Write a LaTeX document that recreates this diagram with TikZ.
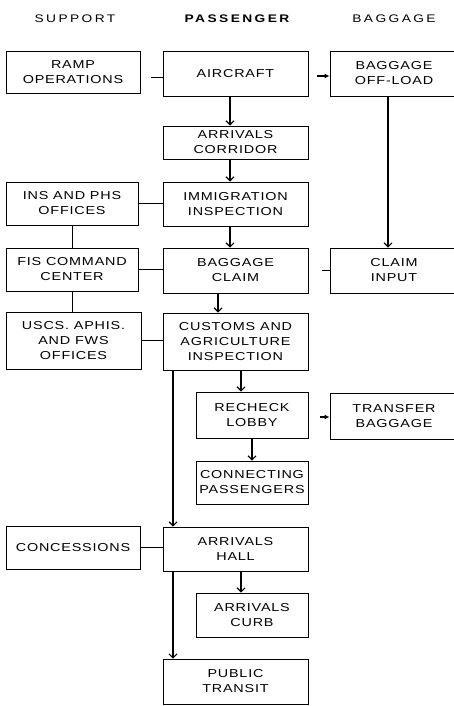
\documentclass[tikz,border=0pt]{standalone}
\usepackage{fontspec}
\setmainfont{Liberation Sans}
\newfontfamily\spacedfont[LetterSpace=7,FakeStretch=1.25]{Liberation Sans}
\newfontfamily\headfont[LetterSpace=22,FakeStretch=1.25]{Liberation Sans}
\usetikzlibrary{arrows.meta}
\tikzset{
  box/.style={draw, line width=0.9pt, inner sep=0pt, align=center,
    font=\spacedfont\fontsize{11.5}{15}\selectfont},
  head/.style={inner sep=0pt, font=\headfont\fontsize{11}{12}\selectfont},
  link/.style={line width=1pt},
  arr/.style={line width=1.3pt, -{Straight Barb[length=4pt,width=8pt,line width=1.1pt]}},
  stub/.style={line width=1.2pt, -{Latex[length=5pt,width=5pt]}}
}
\begin{document}
\begin{tikzpicture}[x=1pt,y=-1pt]
\useasboundingbox (0,0) rectangle (453,706);
% headers
\node[head] (hs) at (75,18.5) {SUPPORT};
\node[head] (hp) at (237,18.5) {\bfseries PASSENGER};
\node[head] (hb) at (394,18.5) {BAGGAGE};
% boxes
\node[box, minimum width=134pt, minimum height=42pt] (ramp) at (73,72) {RAMP\\OPERATIONS};
\node[box, minimum width=145pt, minimum height=45pt] (aircraft) at (235.5,73.5) {AIRCRAFT};
\node[box, minimum width=128pt, minimum height=45pt] (offload) at (394,73.5) {BAGGAGE\\OFF-LOAD};
\node[box, minimum width=145pt, minimum height=33pt] (corridor) at (235.5,142.5) {ARRIVALS\\CORRIDOR};
\node[box, minimum width=145pt, minimum height=44pt] (immig) at (235.5,204) {IMMIGRATION\\INSPECTION};
\node[box, minimum width=132pt, minimum height=43pt] (ins) at (72,203.5) {INS AND PHS\\OFFICES};
\node[box, minimum width=145pt, minimum height=45pt] (bclaim) at (235.5,270.5) {BAGGAGE\\CLAIM};
\node[box, minimum width=132pt, minimum height=43pt] (fis) at (72,269.5) {FIS COMMAND\\CENTER};
\node[box, minimum width=128pt, minimum height=45pt] (cinput) at (394,270.5) {CLAIM\\INPUT};
\node[box, minimum width=145pt, minimum height=57pt] (customs) at (235.5,341.5) {CUSTOMS AND\\AGRICULTURE\\INSPECTION};
\node[box, minimum width=135pt, minimum height=57pt] (uscs) at (73.5,340.5) {USCS. APHIS.\\AND FWS\\OFFICES};
\node[box, minimum width=112pt, minimum height=46pt] (recheck) at (252,415) {RECHECK\\LOBBY};
\node[box, minimum width=128pt, minimum height=46pt] (transfer) at (394,416) {TRANSFER\\BAGGAGE};
\node[box, minimum width=112pt, minimum height=43pt] (connect) at (252,482.5) {CONNECTING\\PASSENGERS};
\node[box, minimum width=145pt, minimum height=44pt] (hall) at (235.5,549) {ARRIVALS\\HALL};
\node[box, minimum width=134pt, minimum height=43pt] (conc) at (73,547.5) {CONCESSIONS};
\node[box, minimum width=112pt, minimum height=44pt] (curb) at (252,615) {ARRIVALS\\CURB};
\node[box, minimum width=145pt, minimum height=45pt] (transit) at (235.5,681.5) {PUBLIC\\TRANSIT};
% support links
\draw[link, shorten <=11pt] ([yshift=-6pt]ramp.east) -- ([yshift=-6pt]ramp.east -| aircraft.west);
\draw[link] (ins.east) -- (ins.east -| immig.west);
\draw[link] (fis.east) -- (fis.east -| bclaim.west);
\draw[link] (uscs.east) -- (uscs.east -| customs.west);
\draw[link] (conc.east) -- (conc.east -| hall.west);
\draw[link] (ins.south) -- (fis.north);
\draw[link] (fis.south) -- (fis.south |- uscs.north);
% passenger flow
\draw[arr] ([xshift=-5.5pt]aircraft.south) -- ([xshift=-5.5pt]corridor.north);
\draw[arr] ([xshift=-5.5pt]corridor.south) -- ([xshift=-5.5pt]immig.north);
\draw[arr] ([xshift=-5.5pt]immig.south) -- ([xshift=-5.5pt]bclaim.north);
\draw[arr] ([xshift=-17.5pt]bclaim.south) -- ([xshift=-17.5pt]customs.north);
\draw[arr] ([xshift=5.5pt]customs.south) -- ([xshift=5.5pt]customs.south |- recheck.north);
\draw[arr] (recheck.south) -- (connect.north);
\draw[arr] ([xshift=-62.5pt]customs.south) -- ([xshift=-62.5pt]customs.south |- hall.north);
\draw[arr] ([xshift=5.5pt]hall.south) -- ([xshift=5.5pt]hall.south |- curb.north);
\draw[arr] ([xshift=-62.5pt]hall.south) -- ([xshift=-62.5pt]transit.north);
% baggage flow
\draw[stub, shorten <=9pt] ([yshift=-2.5pt]aircraft.east) -- ([yshift=-2.5pt]aircraft.east -| offload.west);
\draw[arr] ([xshift=-6pt]offload.south) -- ([xshift=-6pt]cinput.north);
\coordinate (cstub) at ([xshift=-8pt]cinput.west);
\draw[link] (cinput.west) -- (cstub);
\draw[stub, shorten <=12pt] ([yshift=-2pt]recheck.east) -- ([yshift=-2pt]recheck.east -| transfer.west);
\end{tikzpicture}
\end{document}
